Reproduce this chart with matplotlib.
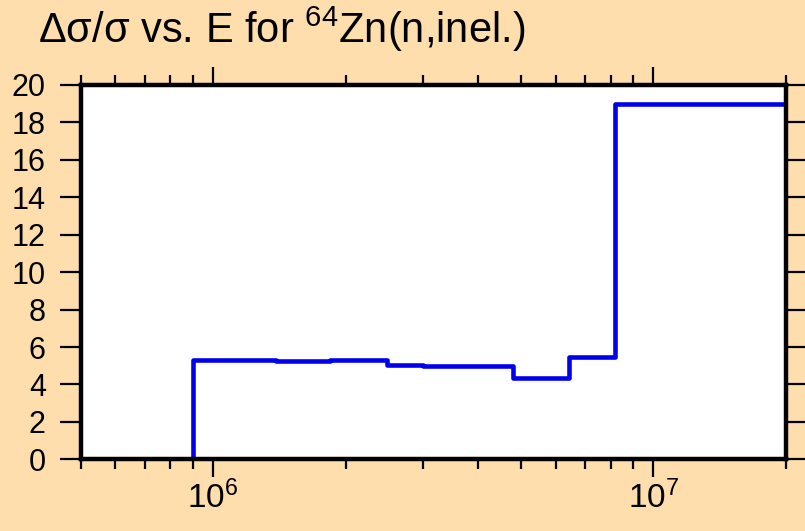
import numpy as np
import matplotlib
matplotlib.use("Agg")
import matplotlib.pyplot as plt
from matplotlib.ticker import LogLocator, NullFormatter, MultipleLocator

plt.rcParams['font.family'] = ['Liberation Sans', 'DejaVu Sans']
plt.rcParams['mathtext.fontset'] = 'custom'
plt.rcParams['mathtext.rm'] = 'Liberation Sans'
plt.rcParams['mathtext.default'] = 'regular'

# bin edges (eV) and relative uncertainty (%) per bin
edges = [9.0e5, 1.39e6, 1.84e6, 2.48e6, 3.0e6, 4.8e6, 6.45e6, 8.2e6, 2.0e7]
values = [5.30, 5.23, 5.32, 5.02, 4.98, 4.33, 5.48, 19.0]

bg = '#FFDEAD'
fig = plt.figure(figsize=(8.05, 5.31), dpi=100, facecolor=bg)
ax = fig.add_axes([0.100, 0.135, 0.876, 0.705])
ax.set_facecolor('white')

# step outline, dropping to zero at both ends
x = np.array([edges[0]] + edges)
y = np.array([0.0] + values + [values[-1]])
ax.step(x, y, where='post', color='#0000EE', lw=3.3, zorder=3)
ax.plot([edges[-1], edges[-1]], [values[-1], 0], color='#0000EE', lw=3.3, zorder=3)

ax.set_xscale('log')
ax.set_xlim(5e5, 2e7)
ax.set_ylim(0, 20)
ax.yaxis.set_major_locator(MultipleLocator(2))
ax.xaxis.set_major_locator(LogLocator(base=10, numticks=10))
ax.xaxis.set_minor_locator(LogLocator(base=10, subs=np.arange(2, 10), numticks=20))
ax.xaxis.set_minor_formatter(NullFormatter())

for s in ax.spines.values():
    s.set_linewidth(3.2)
    s.set_zorder(4)

ax.tick_params(axis='y', which='major', direction='out', length=15, width=1.6,
               labelsize=22, pad=10, right=True)
ax.tick_params(axis='x', which='major', direction='out', length=13, width=1.6,
               labelsize=24, pad=2, top=True)
ax.tick_params(axis='x', which='minor', direction='out', length=7, width=1.6, top=True)

fig.text(0.047, 0.919, 'Δσ/σ vs. E for $^{64}$Zn(n,inel.)', fontsize=30,
         ha='left', va='baseline')

fig.savefig('out.png', dpi=100, facecolor=bg)
